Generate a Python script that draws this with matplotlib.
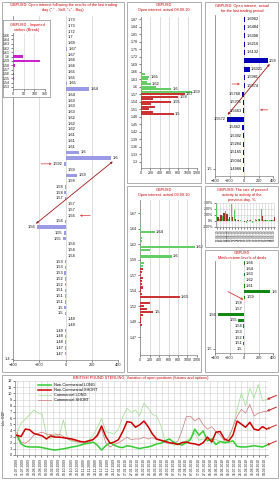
import matplotlib
matplotlib.use('Agg')
import matplotlib.pyplot as plt
from matplotlib.patches import Rectangle
import pandas as pd

plt.rcParams['font.family'] = ['Liberation Sans', 'DejaVu Sans']

W, H = 280, 480
RED = '#cc0000'
ARROW = '#a01818'
GRID = '#cfcfcf'
BOX = '#a0a0a0'
FS = 2.8

# ---- left panel: open interest after the last trading day
left_title = ['GBPUSD: Open interest following the results of the last trading',
              'day ("-" - Sell, "+" - Buy)']
left_labels = ['1.73', '1.73', '1.72', '1.7', '1.69', '1.67', '1.67', '1.66', '1.66', '1.65',
               '1.65', '1.65', '1.64', '1.64', '1.63', '1.63', '1.63', '1.62', '1.62', '1.62',
               '1.61', '1.61', '1.61', '1.6', '1.6', '1.592', '1.59', '1.59', '1.58', '1.58',
               '1.58', '1.57', '1.57', '1.57', '1.56', '1.56', '1.56', '1.55', '1.55', '1.54',
               '1.54', '1.54', '1.53', '1.53', '1.53', '1.52', '1.52', '1.51', '1.51', '1.51',
               '1.5', '1.5', '1.49', '1.49', '1.49', '1.48', '1.48', '1.47', '1.47']
left_values = [3, 2, 4, 3, 2, 10, 4, 3, 2, 3,
               4, 12, 180, 6, 4, 3, 5, 4, 6, 3,
               4, 5, 4, 105, 345, -10, 6, 85, 4, -5,
               -8, -6, 3, 5, 4, -6, -215, -15, -22, 3,
               4, 3, -6, -3, -8, -5, -6, -4, -7, -3,
               -8, -6, 3, 4, -5, -4, -5, -6, -5]
left_pointers = [25, 34]

inset_title = ['GBPUSD - Imported', 'strikes (Break)']
inset_labels = ['1.66', '1.64', '1.63', '1.62', '1.61', '1.6', '1.59',
                '1.58', '1.57', '1.56', '1.55', '1.54', '1.53']
inset_values = [0, 0, 0, 0, 0, 45, 125, 8, 0, 5, 5, 0, 0]

# ---- middle panels: actual open interest
mt_title = ['GBPUSD', 'Open interest, actual 08.09.10']
mt_ticks = [1.87, 1.84, 1.81, 1.78, 1.75, 1.72, 1.69, 1.66, 1.63, 1.60,
            1.57, 1.54, 1.51, 1.48, 1.45, 1.42, 1.39, 1.36, 1.33, 1.30]
mt_tick_labels = ['1.87', '1.84', '1.81', '1.78', '1.75', '1.72', '1.69', '1.66', '1.63', '1.6',
                  '1.57', '1.54', '1.51', '1.48', '1.45', '1.42', '1.39', '1.36', '1.33', '1.3']
mt_green_levels = [1.65, 1.64, 1.63, 1.62, 1.61, 1.60, 1.59, 1.58]
mt_green_values = [80, 175, 150, 120, 210, 330, 650, 1090]
mt_green_labels = ['', '1.65', '', '', '1.62', '', '1.6', '1.59']
mt_red_levels = [1.57, 1.56, 1.55, 1.54, 1.53, 1.52, 1.51, 1.50, 1.49]
mt_red_values = [940, 800, 250, 650, 220, 300, 180, 250, 700]
mt_red_labels = ['1.57', '1.58', '', '1.55', '', '', '', '', '1.5']

mb_title = ['GBPUSD', 'Open interest, actual 09.09.10']
mb_ticks = [1.67, 1.645, 1.62, 1.595, 1.57, 1.545, 1.52, 1.495, 1.47]
mb_tick_labels = ['1.67', '1.64', '1.62', '1.59', '1.57', '1.54', '1.52', '1.49', '1.47']
mb_green_levels = [1.670, 1.655, 1.645, 1.640, 1.630, 1.625, 1.615, 1.610, 1.600, 1.590, 1.585]
mb_green_values = [30, 30, 20, 315, 50, 40, 1150, 200, 670, 80, 60]
mb_green_labels = ['', '', '', '1.64', '', '', '1.62', '', '1.6', '', '']
mb_red_levels = [1.580, 1.575, 1.570, 1.565, 1.560, 1.555, 1.550, 1.545, 1.540, 1.535,
                 1.525, 1.520, 1.515, 1.510, 1.505, 1.500, 1.495, 1.490]
mb_red_values = [60, 50, 30, 70, 35, 40, 60, 20, 45, 840,
                 220, 90, 150, 280, 60, 30, 20, 40]
mb_red_labels = ['', '', '', '', '', '', '', '', '', '1.63',
                 '', '', '', '1.5', '', '', '', '']

# ---- right panels
rt_title = ['GBPUSD: Open interest, actual', 'for the last trading period']
rt_labels = ['1.6962', '1.6484', '1.6398', '1.6216', '1.6132', '1.59', '1.6021', '1.5981',
             '1.5874', '1.5768', '1.5705', '1.5663', '1.5572', '1.5462', '1.5392', '1.5284',
             '1.5165', '1.5044', '1.4966']
rt_values = [15, 18, 16, 15, 20, 330, 80, 18, 15, -30, -15, -12, -235, -25, -14, -12,
             -15, -18, -10]

act_title = ['GBPUSD: The rate of passed', 'activity to activity of the', 'previous day, %']
act_dates = ['13.08.10', '16.08.10', '17.08.10', '18.08.10', '19.08.10', '20.08.10',
             '23.08.10', '24.08.10', '25.08.10', '26.08.10', '27.08.10', '30.08.10',
             '31.08.10', '01.09.10', '02.09.10', '03.09.10', '06.09.10', '07.09.10',
             '08.09.10', '09.09.10']
act_green = [260, 40, 90, 170, 30, 280, 190, 20, 10, 5, -30, 10, -35, 40, 30, 200, 20, 10, 15, 25]
act_red = [60, 100, 130, 110, 60, 70, 30, 10, 5, -10, 10, 15, 5, 20, 40, 80, 10, 5, 20, 75]

mid_title = ['GBPUSD', 'Medium-term levels of deals']
mid_labels = ['1.66', '1.64', '1.63', '1.62', '1.61', '1.6', '1.59', '1.58',
              '1.57', '1.56', '1.55', '1.54', '1.53', '1.52', '1.51', '1.5']
mid_values = [8, 6, 8, 5, 10, 360, 18, -6, -5, -360, -80, -8, -6, -10, -8, -6]

# ---- bottom: COT open positions
cot_title = 'BRITISH POUND STERLING: Variation of open positions (futures and options)'
cot_dates = pd.date_range('2009-07-21', periods=60, freq='7D')
nc_long = [3.2, 1.8, 1.4, 1.3, 1.3, 1.3, 1.2, 1.05, 0.9, 0.8,
           0.9, 1.0, 1.15, 1.3, 1.4, 1.6, 1.8, 1.9, 2.1, 1.6,
           0.8, 1.5, 2.0, 1.6, 1.3, 1.2, 1.5, 1.4, 1.2, 1.05,
           1.2, 1.3, 1.5, 1.8, 1.9, 2.3, 2.6, 2.1, 1.8, 1.6,
           2.0, 2.5, 4.2, 3.2, 3.9, 2.3, 2.6, 1.7, 2.2, 2.0,
           2.1, 2.3, 1.4, 1.3, 1.3, 1.4, 1.5, 1.4, 1.3, 1.6]
nc_short = [3.2, 3.0, 4.2, 4.1, 3.5, 3.3, 3.1, 2.6, 3.1, 2.9,
            2.9, 2.8, 2.7, 2.6, 2.4, 2.2, 2.1, 2.3, 2.5, 3.2,
            4.7, 3.0, 1.9, 2.1, 2.5, 3.8, 5.4, 5.3, 4.5, 4.9,
            5.5, 4.6, 3.4, 2.6, 2.4, 2.2, 2.0, 1.9, 1.7, 2.0,
            2.1, 1.9, 1.8, 1.6, 2.0, 2.9, 2.1, 3.7, 3.8, 2.6,
            2.3, 3.2, 5.5, 5.0, 4.5, 5.3, 4.2, 4.0, 4.6, 4.2]
c_long = [3.4, 5.2, 5.8, 6.5, 7.3, 6.8, 6.6, 3.2, 2.6, 3.5,
          3.0, 5.7, 2.6, 2.2, 2.1, 2.1, 2.2, 2.4, 3.2, 4.5,
          5.9, 3.8, 3.6, 3.4, 4.2, 6.2, 7.6, 6.9, 7.3, 6.4,
          8.4, 7.6, 6.6, 6.3, 4.8, 2.3, 2.0, 1.6, 1.8, 2.1,
          2.3, 2.8, 3.6, 2.4, 2.6, 2.4, 2.6, 2.5, 2.2, 2.1,
          2.4, 4.5, 7.4, 10.0, 8.0, 10.8, 9.3, 11.4, 8.8, 9.0]
c_short = [3.7, 2.1, 1.9, 2.4, 3.2, 3.5, 3.7, 3.4, 3.3, 3.2,
           3.4, 3.0, 2.6, 2.4, 2.2, 2.0, 1.9, 2.1, 2.5, 3.0,
           4.2, 2.0, 1.3, 1.7, 2.0, 2.4, 2.9, 2.5, 2.6, 2.6,
           2.9, 2.6, 2.8, 2.5, 2.3, 2.0, 1.9, 2.0, 2.2, 4.0,
           6.2, 6.3, 5.5, 6.0, 4.9, 4.2, 4.6, 3.8, 3.2, 2.3,
           2.9, 4.5, 6.3, 7.4, 6.8, 8.2, 6.3, 6.8, 7.0, 7.1]


def px_axes(fig, x0, y0, x1, y1, **kw):
    return fig.add_axes([x0 / W, 1 - y1 / H, (x1 - x0) / W, (y1 - y0) / H], **kw)


def panel_box(fig, x0, y0, x1, y1):
    fig.patches.append(Rectangle((x0 / W, 1 - y1 / H), (x1 - x0) / W, (y1 - y0) / H,
                                 transform=fig.transFigure, fill=False,
                                 edgecolor=BOX, lw=0.6))


def title_lines(fig, x, y0, lines, step=5.2, color=RED, fs=FS):
    for k, s in enumerate(lines):
        fig.text(x / W, 1 - (y0 + k * step) / H, s, color=color, fontsize=fs,
                 ha='center', va='center')


def style(ax):
    for side in ('top', 'right'):
        ax.spines[side].set_visible(False)
    for side in ('left', 'bottom'):
        ax.spines[side].set_color('#808080')
        ax.spines[side].set_linewidth(0.5)
    ax.tick_params(labelsize=FS, length=1.2, width=0.4, pad=0.8, colors='#202020')
    ax.set_axisbelow(True)


def hbars(ax, pos, vals, labels, color, height, off, fs=FS):
    ax.barh(pos, vals, height=height, color=color, zorder=3)
    for p, v, s in zip(pos, vals, labels):
        if s:
            if v >= 0:
                ax.text(v + off, p, s, fontsize=fs, ha='left', va='center', zorder=4)
            else:
                ax.text(v - off, p, s, fontsize=fs, ha='right', va='center', zorder=4)


def arrow(ax, xy, xytext, color, style='->', lw=0.5, ms=3):
    ax.annotate('', xy=xy, xytext=xytext,
                arrowprops=dict(arrowstyle=style, color=color, lw=lw, mutation_scale=ms,
                                shrinkA=0, shrinkB=0),
                annotation_clip=False, zorder=6)


fig = plt.figure(figsize=(W / 100, H / 100), dpi=100)
fig.patch.set_facecolor('white')

panel_box(fig, 2, 2, 124, 372)
panel_box(fig, 127, 2, 201, 183)
panel_box(fig, 127, 186, 201, 372)
panel_box(fig, 205, 2, 278, 183)
panel_box(fig, 205, 186, 278, 247)
panel_box(fig, 205, 250, 278, 372)
panel_box(fig, 2, 375, 278, 478)

# ---- left chart
ax = px_axes(fig, 13, 16, 118, 360)
style(ax)
rows = list(range(len(left_values)))
hbars(ax, rows, left_values, left_labels, '#9a9ae6', 0.6, 12)
ax.set_xlim(-400, 400)
ax.set_ylim(59.1, -0.7)
ax.set_xticks([-400, -200, 0, 200, 400])
ax.set_yticks([58.9])
ax.set_yticklabels(['1.4'])
ax.grid(axis='x', color=GRID, lw=0.5)
imax = left_values.index(max(left_values))
imin = left_values.index(min(left_values))
arrow(ax, (left_values[imin] - 10, imin - 0.6), (left_values[imax] + 15, imax + 0.6),
      ARROW, style='<->', lw=0.6)
arrow(ax, (left_values[left_pointers[0]] - 95, left_pointers[0]),
      (left_values[left_pointers[0]] - 175, left_pointers[0]), '#dd3333')
arrow(ax, (left_values[left_pointers[1]] + 105, left_pointers[1]),
      (left_values[left_pointers[1]] + 185, left_pointers[1]), '#dd3333')
title_lines(fig, 63, 5, left_title)

# inset with imported strikes
box = px_axes(fig, 3, 20, 50, 97)
box.set_xticks([])
box.set_yticks([])
for sp in box.spines.values():
    sp.set_color(BOX)
    sp.set_linewidth(0.6)
title_lines(fig, 27, 25, inset_title)
ax = px_axes(fig, 13, 33, 45, 89)
style(ax)
hbars(ax, list(range(len(inset_values))), inset_values, [''] * len(inset_values),
      '#cc22cc', 0.6, 0)
ax.set_yticks(range(len(inset_labels)))
ax.set_yticklabels(inset_labels)
ax.set_ylim(12.5, -0.5)
ax.set_xlim(0, 150)
ax.set_xticks([0, 50, 100, 150])
ax.grid(axis='x', color=GRID, lw=0.4)
ax.tick_params(labelsize=2.6)

# ---- middle top
ax = px_axes(fig, 141, 17, 197, 168)
style(ax)
hbars(ax, mt_green_levels, mt_green_values, mt_green_labels, '#66cc66', 0.008, 25)
hbars(ax, mt_red_levels, mt_red_values, mt_red_labels, '#cc3333', 0.008, 25)
ax.set_ylim(1.276, 1.878)
ax.set_yticks(mt_ticks)
ax.set_yticklabels(mt_tick_labels)
ax.set_xlim(0, 1200)
ax.set_xticks(range(0, 1201, 200))
ax.grid(axis='x', color=GRID, lw=0.5)
ax.tick_params(labelsize=2.6)
title_lines(fig, 164, 5, mt_title)

# ---- middle bottom
ax = px_axes(fig, 140, 200, 197, 355)
style(ax)
hbars(ax, mb_green_levels, mb_green_values, mb_green_labels, '#66cc66', 0.0036, 25)
hbars(ax, mb_red_levels, mb_red_values, mb_red_labels, '#cc3333', 0.0036, 25)
ax.set_ylim(1.441, 1.691)
ax.set_yticks(mb_ticks)
ax.set_yticklabels(mb_tick_labels)
ax.set_xlim(0, 1200)
ax.set_xticks(range(0, 1201, 200))
ax.grid(axis='x', color=GRID, lw=0.5)
ax.tick_params(labelsize=2.6)
title_lines(fig, 164, 190, mb_title)

# ---- right top
ax = px_axes(fig, 215, 15, 273, 176)
style(ax)
rows = list(range(len(rt_values)))
hbars(ax, rows, rt_values, rt_labels, '#0000bb', 0.6, 15)
ax.set_xlim(-400, 400)
ax.set_ylim(18.84, -0.48)
ax.set_xticks([-400, -200, 0, 200, 400])
ax.set_yticks([18])
ax.set_yticklabels(['1.5'])
ax.grid(axis='x', color=GRID, lw=0.5)
jmax = rt_values.index(max(rt_values))
jmin = rt_values.index(min(rt_values))
arrow(ax, (rt_values[jmin] + 10, jmin - 0.5), (rt_values[jmax] + 25, jmax + 0.4),
      ARROW, style='<->', lw=0.6)
arrow(ax, (-55, 7.8), (-165, 7.8), '#dd3333')
arrow(ax, (220, 10.9), (330, 10.9), '#dd3333')
title_lines(fig, 242, 6, rt_title)

# ---- right middle: activity ratio
ax = px_axes(fig, 216, 203, 275, 227)
style(ax)
idx = list(range(len(act_dates)))
ax.bar([i - 0.2 for i in idx], act_green, width=0.4, color='#55cc55', zorder=3)
ax.bar([i + 0.2 for i in idx], act_red, width=0.4, color='#993322', zorder=3)
ax.set_xlim(-0.5, len(act_dates) - 0.5)
ax.set_ylim(-100, 300)
ax.set_yticks([-100, 0, 100, 200, 300])
ax.set_yticklabels(['-100%', '0%', '100%', '200%', '300%'])
ax.set_xticks(idx)
ax.set_xticklabels(act_dates, rotation=90, fontsize=2.2)
ax.grid(color=GRID, lw=0.4)
ax.tick_params(axis='y', labelsize=2.6)
title_lines(fig, 242, 190, act_title, step=5)

# ---- right bottom: medium-term levels
ax = px_axes(fig, 215, 261, 273, 353)
style(ax)
rows = list(range(len(mid_values)))
hbars(ax, rows, mid_values, mid_labels, '#118811', 0.6, 15)
ax.set_xlim(-400, 400)
ax.set_ylim(15.7, -0.35)
ax.set_xticks([-400, -200, 0, 200, 400])
ax.set_yticks([15])
ax.set_yticklabels(['1.5'])
ax.grid(axis='x', color=GRID, lw=0.5)
arrow(ax, (-8, 6.4), (-220, 5.0), '#dd3333', lw=0.6)
title_lines(fig, 242, 253, mid_title)

# ---- bottom: COT positions
ax = px_axes(fig, 15, 381, 268, 455)
style(ax)
ax.plot(cot_dates, c_long, color='#99dd88', lw=0.5, label='Commercial LONG', zorder=3)
ax.plot(cot_dates, c_short, color='#cc7777', lw=0.5, label='Commercial SHORT', zorder=3)
ax.plot(cot_dates, nc_long, color='#33cc33', lw=1.1, label='Non-Commercial LONG', zorder=4)
ax.plot(cot_dates, nc_short, color='#cc0000', lw=1.1, label='Non-Commercial SHORT', zorder=4)
handles, labels = ax.get_legend_handles_labels()
order = [2, 3, 0, 1]
ax.legend([handles[k] for k in order], [labels[k] for k in order], loc='upper left',
          bbox_to_anchor=(0.08, 1.0), frameon=False, fontsize=2.8, handlelength=3.5,
          labelspacing=0.25, borderaxespad=0.2, handletextpad=0.6)
for series in (c_long, c_short, nc_short, nc_long):
    ax.annotate('', xy=(cot_dates[-1], series[-1]), xytext=(7, 3), textcoords='offset points',
                arrowprops=dict(arrowstyle='->', color='#cc2222', lw=0.7, mutation_scale=3,
                                shrinkA=0, shrinkB=0),
                annotation_clip=False)
tick_dates = pd.date_range(cot_dates[0], cot_dates[-1], freq='10D')
ax.set_xticks(tick_dates)
ax.set_xticklabels([d.strftime('%d.%m.%Y') for d in tick_dates], rotation=90, fontsize=2.4)
ax.set_xlim(cot_dates[0] - pd.Timedelta(days=3), cot_dates[-1] + pd.Timedelta(days=2))
ax.set_ylim(0, 12)
ax.set_yticks(range(0, 13))
ax.grid(color=GRID, lw=0.4)
ax.set_ylabel('bln. GBP', fontsize=2.6, labelpad=1.5)
fig.text(141 / W, 1 - 378 / H, cot_title, color=RED, fontsize=FS, ha='center', va='center')

fig.savefig('out.png', dpi=100, facecolor='white')
